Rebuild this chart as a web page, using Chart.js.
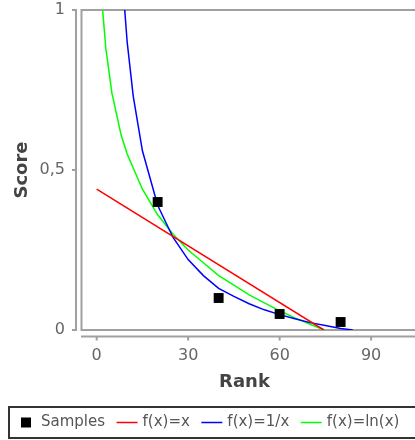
<!DOCTYPE html>
<html><head><meta charset="utf-8">
<script src="https://cdn.jsdelivr.net/npm/chart.js@4/dist/chart.umd.min.js"></script>
<style>html,body{margin:0;padding:0;background:#fff;}#wrap{position:relative;width:415px;height:440px;}</style>
</head><body><div id="wrap"><canvas id="c" width="415" height="440"></canvas></div>
<script>
// ---- data ----
const sampleRank  = [20, 40, 60, 80];
const sampleScore = [0.40, 0.10, 0.05, 0.025];
const linRank  = [0, 74.5];
const linScore = [0.44, 0.0];
const invRank  = [9.2, 10, 12, 15, 20, 25, 30, 35, 40, 45, 50, 55, 60, 65, 70, 75, 80, 84];
const invScore = [1.0, 0.90, 0.73, 0.56, 0.39, 0.29, 0.22, 0.17, 0.13, 0.105, 0.082, 0.063, 0.048, 0.035, 0.023, 0.014, 0.005, 0.0];
const lnRank   = [1.96, 3, 5, 8, 10, 15, 20, 25, 30, 35, 40, 45, 50, 55, 60, 65, 70, 74.7];
const lnScore  = [1.0, 0.88, 0.74, 0.61, 0.55, 0.44, 0.36, 0.30, 0.25, 0.21, 0.17, 0.14, 0.11, 0.085, 0.06, 0.038, 0.018, 0.0];
const xTicks = [0, 30, 60, 90];
const yTicks = [0, 0.5, 1];
const seriesLabels = ['Samples', 'f(x)=x', 'f(x)=1/x', 'f(x)=ln(x)'];
const seriesColors = ['#000000', '#ff0000', '#0000ff', '#00ff00'];
const xTitle = 'Rank';
const yTitle = 'Score';

function pts(xs, ys) { return xs.map((x, i) => ({ x: x, y: ys[i] })); }

const FONT = '"DejaVu Sans", sans-serif';
const AXIS_GRAY = '#a0a0a0';

const framePlugin = {
  id: 'frame',
  beforeDatasetsDraw(chart) {
    const { ctx, chartArea: a, scales: { x, y } } = chart;
    ctx.save();
    ctx.strokeStyle = AXIS_GRAY;
    ctx.lineWidth = 2;
    ctx.beginPath();
    ctx.moveTo(chart.width, a.top);
    ctx.lineTo(a.left + 0.5, a.top);
    ctx.lineTo(a.left + 0.5, a.bottom);
    ctx.lineTo(chart.width, a.bottom);
    ctx.stroke();
    const ax = a.left - 5;
    ctx.beginPath();
    ctx.moveTo(ax, a.top - 1);
    ctx.lineTo(ax, a.bottom + 1);
    yTicks.forEach(v => {
      const py = y.getPixelForValue(v);
      ctx.moveTo(ax, py);
      ctx.lineTo(ax - 4, py);
    });
    ctx.stroke();
    const ay = a.bottom + 6.5;
    ctx.beginPath();
    ctx.moveTo(a.left, ay);
    ctx.lineTo(chart.width, ay);
    xTicks.forEach(v => {
      const px = x.getPixelForValue(v);
      ctx.moveTo(px, ay);
      ctx.lineTo(px, ay + 4);
    });
    ctx.stroke();
    ctx.restore();
  }
};

const legendPlugin = {
  id: 'boxLegend',
  afterDraw(chart) {
    const ctx = chart.ctx;
    ctx.save();
    ctx.strokeStyle = '#333333';
    ctx.lineWidth = 2;
    ctx.strokeRect(9, 407, chart.width + 10, 31);
    ctx.font = '15px ' + FONT;
    ctx.textBaseline = 'middle';
    const cy = 422.5;
    let px = 21;
    chart.data.datasets.forEach((ds, i) => {
      if (i === 0) {
        ctx.fillStyle = seriesColors[0];
        ctx.fillRect(px, cy - 5, 10, 10);
        px += 20;
      } else {
        ctx.strokeStyle = seriesColors[i];
        ctx.lineWidth = 1.5;
        ctx.beginPath();
        ctx.moveTo(px, cy);
        ctx.lineTo(px + 21, cy);
        ctx.stroke();
        px += 26;
      }
      ctx.fillStyle = '#555555';
      ctx.fillText(ds.label, px, cy);
      px += ctx.measureText(ds.label).width + 11.5;
    });
    ctx.restore();
  }
};

const lineDs = (i, xs, ys) => ({
  type: 'scatter',
  label: seriesLabels[i],
  data: pts(xs, ys),
  showLine: true,
  borderColor: seriesColors[i],
  backgroundColor: seriesColors[i],
  borderWidth: 1.5,
  pointRadius: 0,
  pointHoverRadius: 0,
  tension: 0
});

new Chart(document.getElementById('c'), {
  type: 'scatter',
  data: {
    datasets: [
      {
        label: seriesLabels[0],
        data: pts(sampleRank, sampleScore),
        pointStyle: 'rect',
        pointRadius: 7,
        pointBorderWidth: 0,
        backgroundColor: seriesColors[0],
        borderColor: seriesColors[0],
        showLine: false
      },
      lineDs(1, linRank, linScore),
      lineDs(2, invRank, invScore),
      lineDs(3, lnRank, lnScore)
    ]
  },
  options: {
    responsive: false,
    animation: false,
    events: [],
    layout: { padding: { top: 10, left: 0, right: 0, bottom: 0 } },
    plugins: { legend: { display: false }, tooltip: { enabled: false } },
    scales: {
      x: {
        type: 'linear',
        min: -5.14,
        max: 102.1,
        afterBuildTicks: s => { s.ticks = xTicks.map(v => ({ value: v })); },
        afterFit: s => { s.height = 110; s.paddingLeft = 0; s.paddingRight = 0; },
        grid: { display: false, drawTicks: false },
        border: { display: false },
        ticks: { color: '#666666', font: { family: FONT, size: 16 }, padding: 16, maxRotation: 0, autoSkip: false },
        title: { display: true, text: xTitle, color: '#444444', font: { family: FONT, size: 18, weight: 'bold' }, padding: { top: 0, bottom: 47 } }
      },
      y: {
        type: 'linear',
        min: 0,
        max: 1,
        afterBuildTicks: s => { s.ticks = yTicks.map(v => ({ value: v })); },
        afterFit: s => { s.width = 81; s.paddingTop = 0; s.paddingBottom = 0; },
        grid: { display: false, drawTicks: false },
        border: { display: false },
        ticks: {
          color: '#666666', font: { family: FONT, size: 16 }, padding: 16,
          callback: v => String(v).replace('.', ',')
        },
        title: { display: true, text: yTitle, color: '#444444', font: { family: FONT, size: 18, weight: 'bold' }, padding: { top: 12, bottom: 0 } }
      }
    }
  },
  plugins: [framePlugin, legendPlugin]
});
</script>
</body></html>
